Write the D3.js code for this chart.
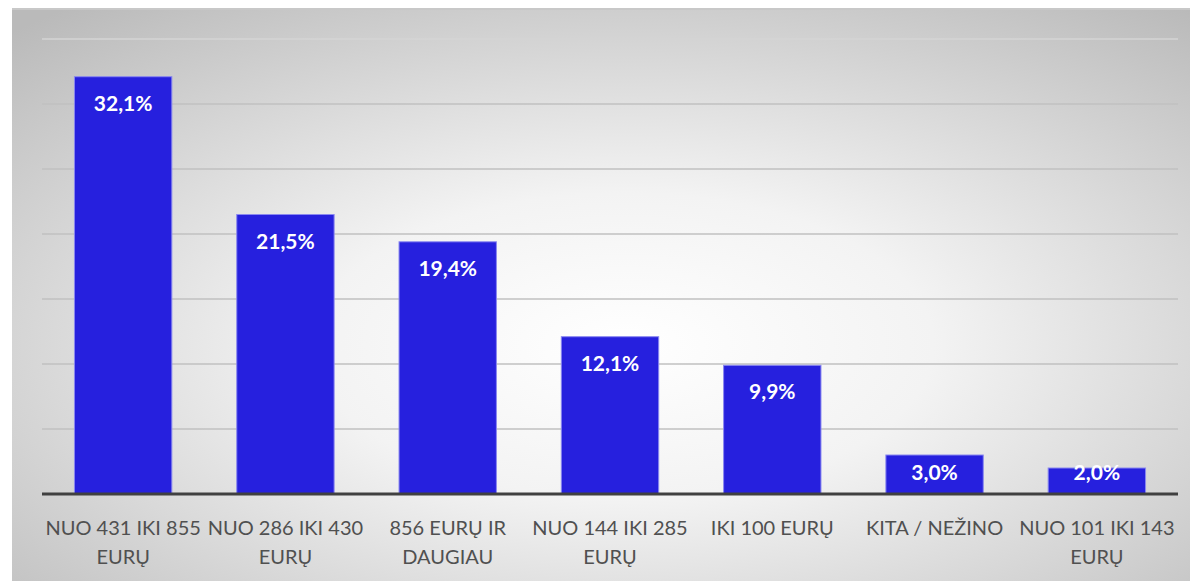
<!DOCTYPE html>
<html>
<head>
<meta charset="utf-8">
<script src="https://cdn.jsdelivr.net/npm/d3@7"></script>
<style>
  body { margin: 0; background: #fff; }
  svg { display: block; }
</style>
</head>
<body>
<script>
// Data
const categories = [
  "NUO 431 IKI 855 EURŲ",
  "NUO 286 IKI 430 EURŲ",
  "856 EURŲ IR DAUGIAU",
  "NUO 144 IKI 285 EURŲ",
  "IKI 100 EURŲ",
  "KITA / NEŽINO",
  "NUO 101 IKI 143 EURŲ",
];
const values = [32.1, 21.5, 19.4, 12.1, 9.9, 3.0, 2.0];
const gridTicks = [5, 10, 15, 20, 25, 30, 35];

const W = 1191, H = 581;
const frame = { x: 12, y: 9, w: 1178, h: 580 };
const margin = { left: 42, right: 13, top: 39, bottom: 87 };

const svg = d3.select("body").append("svg").attr("width", W).attr("height", H);

const defs = svg.append("defs");
const grad = defs.append("radialGradient")
  .attr("id", "bg")
  .attr("cx", "52%").attr("cy", "58%").attr("r", "75%");
grad.append("stop").attr("offset", "0%").attr("stop-color", "#ffffff");
grad.append("stop").attr("offset", "35%").attr("stop-color", "#f3f3f3");
grad.append("stop").attr("offset", "100%").attr("stop-color", "#bababa");

svg.append("rect")
  .attr("x", frame.x).attr("y", frame.y)
  .attr("width", frame.w).attr("height", frame.h)
  .attr("fill", "url(#bg)");
svg.append("line")
  .attr("x1", frame.x).attr("x2", frame.x + frame.w)
  .attr("y1", frame.y).attr("y2", frame.y)
  .attr("stroke", "#c8c8c8").attr("stroke-width", 2);

const x = d3.scaleBand()
  .domain(categories)
  .range([margin.left, W - margin.right])
  .paddingInner(0.4)
  .paddingOuter(0.2);

const y = d3.scaleLinear()
  .domain([0, 35])
  .range([H - margin.bottom, margin.top]);

// gridlines
svg.append("g")
  .selectAll("line")
  .data(gridTicks)
  .join("line")
  .attr("x1", margin.left).attr("x2", W - margin.right)
  .attr("y1", (d) => y(d)).attr("y2", (d) => y(d))
  .attr("stroke", (d) => (d === 35 ? "#d4d4d4" : "#c0c0c0"))
  .attr("stroke-width", 1.5);

// bars
const bars = svg.append("g")
  .selectAll("g")
  .data(categories)
  .join("g");

bars.append("rect")
  .attr("x", (d) => x(d))
  .attr("y", (d, i) => y(values[i]))
  .attr("width", x.bandwidth())
  .attr("height", (d, i) => y(0) - y(values[i]))
  .attr("fill", "#2620de")
  .attr("stroke", "#8a88f0")
  .attr("stroke-width", 1);

// labels sit inside the bar top, but never lower than just above the baseline
bars.append("text")
  .attr("x", (d) => x(d) + x.bandwidth() / 2)
  .attr("y", (d, i) => Math.min(y(values[i]) + 34, y(0) - 14))
  .attr("text-anchor", "middle")
  .attr("fill", "#ffffff")
  .attr("font-family", "Lato, 'Open Sans', sans-serif")
  .attr("font-weight", "bold")
  .attr("font-size", 21)
  .text((d, i) => d3.format(".1f")(values[i]).replace(".", ",") + "%");

// baseline axis
const xAxis = svg.append("g")
  .attr("transform", `translate(0,${y(0)})`)
  .call(d3.axisBottom(x).tickSize(0).tickPadding(0));
xAxis.select(".domain")
  .attr("stroke", "#404040")
  .attr("stroke-width", 3)
  .attr("d", `M${margin.left},0H${W - margin.right}`);

xAxis.selectAll(".tick text")
  .attr("fill", "#505050")
  .attr("font-family", "Lato, 'Open Sans', sans-serif")
  .attr("font-size", 20)
  .attr("y", 0)
  .attr("dy", 0)
  .call(wrap, x.step());

function wrap(sel, width) {
  sel.each(function () {
    const text = d3.select(this);
    const words = text.text().split(/\s+/);
    text.text(null);
    const lines = [];
    let line = [];
    const probe = text.append("tspan");
    for (const w of words) {
      line.push(w);
      probe.text(line.join(" "));
      if (probe.node().getComputedTextLength() > width - 2 && line.length > 1) {
        line.pop();
        lines.push(line.join(" "));
        line = [w];
      }
    }
    lines.push(line.join(" "));
    probe.remove();
    lines.forEach((l, i) => {
      text.append("tspan")
        .attr("x", 0)
        .attr("y", 41 + i * 29)
        .text(l);
    });
  });
}
</script>
</body>
</html>
